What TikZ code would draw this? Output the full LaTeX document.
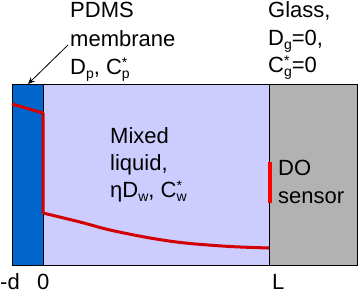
\documentclass[tikz,border=0pt]{standalone}
\usepackage{fontspec}
\setmainfont{Liberation Sans}
\usetikzlibrary{arrows.meta}
\definecolor{memblue}{RGB}{0,102,204}
\definecolor{liq}{RGB}{204,204,255}
\definecolor{glassgray}{RGB}{178,178,178}
\definecolor{curvered}{RGB}{210,0,0}
\definecolor{sensorred}{RGB}{255,0,0}
\newcommand\lowsub[1]{\raisebox{-4pt}{\fontsize{14}{14}\selectfont #1}}
\newcommand\starsub[1]{\rlap{\raisebox{7pt}{\fontsize{14}{14}\selectfont *}}\lowsub{#1}}
\begin{document}
\begin{tikzpicture}[x=1pt,y=-1pt,
  lbl/.style={anchor=base west, inner sep=0pt, font=\fontsize{22}{26}\selectfont},
  border/.style={draw=black, line width=0.8pt},
  profile/.style={draw=curvered, line width=3pt, line join=round}]
\useasboundingbox (0,0) rectangle (359,293);
\fill[liq] (43,84) rectangle (269,265);
\fill[glassgray] (269,84) rectangle (357,265);
\fill[memblue] (12,84) rectangle (43,265);
\draw[border] (12,84) rectangle (357,265);
\draw[border] (43,84) -- (43,265);
\draw[border] (269,84) -- (269,265);
% concentration profile
\draw[profile] (12,104) -- (43,113) -- (43,213)
  plot[smooth] coordinates {(43,213) (80,222) (110,230) (150,238) (185,243) (230,246.5) (269,248)};
% DO sensor
\draw[sensorred, line width=4pt] (269.5,162) -- (269.5,203);
% labels
\node[lbl] (t1) at (70,17) {PDMS};
\node[lbl] (t2) at (70,46) {membrane};
\node[lbl] (t3) at (70,74) {D\lowsub{p}, C\starsub{p}};
\node[lbl] (g1) at (268,17) {Glass,};
\node[lbl] (g2) at (268,45) {D\lowsub{g}=0,};
\node[lbl] (g3) at (268,72) {C\starsub{g}=0};
\node[lbl] (m1) at (110,143) {Mixed};
\node[lbl] (m2) at (110,170) {liquid,};
\node[lbl] (m3) at (110,197) {ηD\lowsub{w}, C\starsub{w}};
\node[lbl] (s1) at (278,175) {DO};
\node[lbl] (s2) at (278,203) {sensor};
\node[lbl] (xd) at (0,289) {-d};
\node[lbl] (x0) at (37,289) {0};
\node[lbl] (xL) at (272,289) {L};
% arrow
\coordinate (astart) at (68,45);
\coordinate (atip) at (28,84);
\draw[-{Stealth[length=7pt,width=6pt]}, line width=0.8pt] (astart) -- (atip);
\end{tikzpicture}
\end{document}
